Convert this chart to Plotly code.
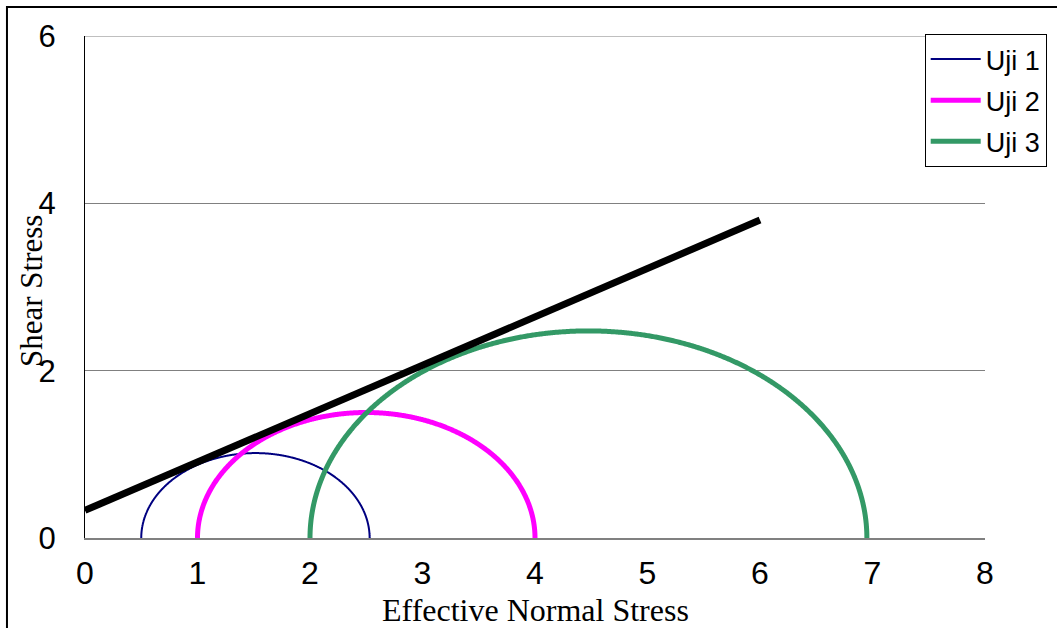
import numpy as np
import plotly.graph_objects as go

# Triaxial tests: minor and major principal effective stresses
test_names = ["Uji 1", "Uji 2", "Uji 3"]
sigma3 = [0.5, 1.0, 2.0]
sigma1 = [2.53, 4.0, 6.95]
colors = ["#000080", "#FF00FF", "#339966"]
widths = [2, 5, 5]

# Failure envelope end points
env_x = [0.0, 6.0]
env_y = [0.33, 3.8]

x_ticks = [0, 1, 2, 3, 4, 5, 6, 7, 8]
y_ticks = [0, 2, 4, 6]

fig = go.Figure()

theta = np.linspace(np.pi, 0, 721)
for name, s3, s1, c, w in zip(test_names, sigma3, sigma1, colors, widths):
    center = (s1 + s3) / 2
    radius = (s1 - s3) / 2
    fig.add_trace(go.Scatter(
        x=center + radius * np.cos(theta),
        y=radius * np.sin(theta),
        mode="lines", name=name, legendgroup=name,
        line=dict(color=c, width=w, simplify=False),
    ))

fig.add_trace(go.Scatter(
    x=env_x, y=env_y, mode="lines", showlegend=False,
    line=dict(color="black", width=7),
))

fig.update_layout(
    width=1057, height=628,
    margin=dict(l=85, r=72, t=36, b=90, autoexpand=False),
    paper_bgcolor="white", plot_bgcolor="white",
    font=dict(family="Liberation Sans, Arial", size=28, color="black"),
    xaxis=dict(
        range=[0, 8], tickvals=x_ticks, showgrid=False, zeroline=False,
        showline=True, linecolor="#808080", linewidth=2,
        ticks="", ticklabelstandoff=6,
        tickfont=dict(family="Liberation Sans, Arial", size=32, color="black"),
    ),
    yaxis=dict(
        range=[0, 6], tickvals=y_ticks, showgrid=True, gridcolor="#808080",
        gridwidth=1, zeroline=False, showline=True, linecolor="black",
        linewidth=1, ticks="", ticklabelstandoff=22,
        tickfont=dict(family="Liberation Sans, Arial", size=31, color="black"),
    ),
    legend=dict(
        x=0.933, y=1.004, xanchor="left", yanchor="top",
        bordercolor="black", borderwidth=1, bgcolor="white",
        font=dict(family="Liberation Sans, Arial", size=27),
        tracegroupgap=3, itemwidth=50,
    ),
    showlegend=True,
    annotations=[
        dict(text="Effective Normal Stress", xref="paper", yref="paper",
             x=0.5, y=-0.144, xanchor="center", yanchor="middle",
             showarrow=False,
             font=dict(family="Liberation Serif, Times New Roman", size=32)),
        dict(text="Shear Stress", xref="paper", yref="paper",
             x=-0.06, y=0.492, xanchor="center", yanchor="middle",
             textangle=-90, showarrow=False,
             font=dict(family="Liberation Serif, Times New Roman", size=31)),
    ],
    shapes=[
        dict(type="rect", xref="paper", yref="paper",
             x0=-0.0867, y0=-0.5, x1=1.3, y1=1.0578,
             line=dict(color="black", width=2), layer="below"),
        dict(type="line", xref="x", yref="y", x0=0, x1=8, y0=6, y1=6,
             line=dict(color="#808080", width=1), layer="below"),
    ],
)

fig.write_html("out.html")
